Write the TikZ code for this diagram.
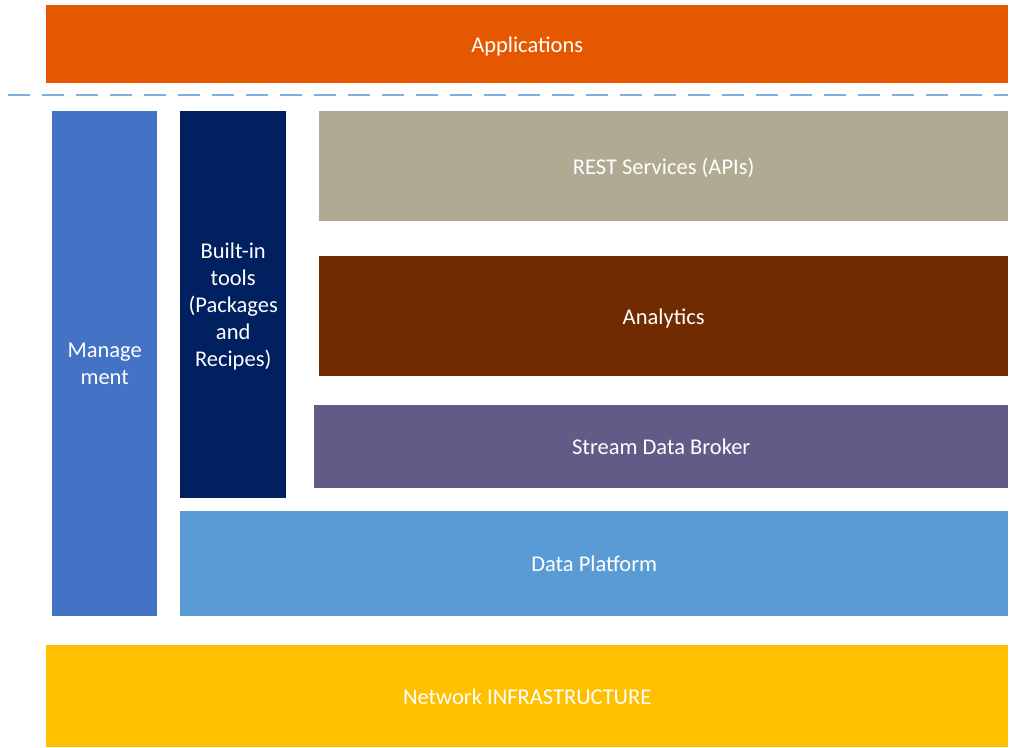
\documentclass[tikz,border=0pt]{standalone}
\usepackage{fontspec}
\setmainfont{Carlito}
\usepackage{tikz}
\usetikzlibrary{positioning}
\definecolor{apporange}{RGB}{229,88,0}
\definecolor{mgmtblue}{RGB}{68,114,196}
\definecolor{toolnavy}{RGB}{0,32,96}
\definecolor{restgrey}{RGB}{176,170,146}
\definecolor{anabrown}{RGB}{113,43,0}
\definecolor{brokerpurple}{RGB}{99,90,135}
\definecolor{datablue}{RGB}{91,155,213}
\definecolor{netyellow}{RGB}{255,192,0}
\definecolor{sepblue}{RGB}{127,174,220}

\begin{document}
\begin{tikzpicture}[
    x=1pt, y=-1pt,
    layer/.style={inner sep=0pt, anchor=north west, align=center, text depth=0pt,
                  text=white, font=\fontsize{22.5}{27}\selectfont},
    sep/.style={sepblue, line width=1.6pt, dash pattern=on 22pt off 12pt}
]
    \useasboundingbox (0,0) rectangle (1022,747);
    \node[layer, fill=apporange, minimum width=962pt, minimum height=78pt] (app) at (46,5) {Applications};
    \coordinate (sepl) at (8,95);
    \coordinate (sepr) at (1008,95);
    \draw[sep] (sepl) -- (sepr);
    \node[layer, fill=mgmtblue, minimum width=105pt, minimum height=505pt] (mgmt) at (52,111) {Manage\\ment};
    \node[layer, fill=toolnavy, minimum width=106pt, minimum height=387pt] (tools) at (180,111) {Built-in\\tools\\(Packages\\and\\Recipes)};
    \node[layer, fill=restgrey, minimum width=689pt, minimum height=110pt] (rest) at (319,111) {REST Services (APIs)};
    \node[layer, fill=anabrown, minimum width=689pt, minimum height=120pt] (ana) at (319,256) {Analytics};
    \node[layer, fill=brokerpurple, minimum width=694pt, minimum height=83pt] (broker) at (314,405) {Stream Data Broker};
    \node[layer, fill=datablue, minimum width=828pt, minimum height=105pt] (data) at (180,511) {Data Platform};
    \node[layer, fill=netyellow, minimum width=962pt, minimum height=102pt] (net) at (46,645) {Network INFRASTRUCTURE};
\end{tikzpicture}
\end{document}
